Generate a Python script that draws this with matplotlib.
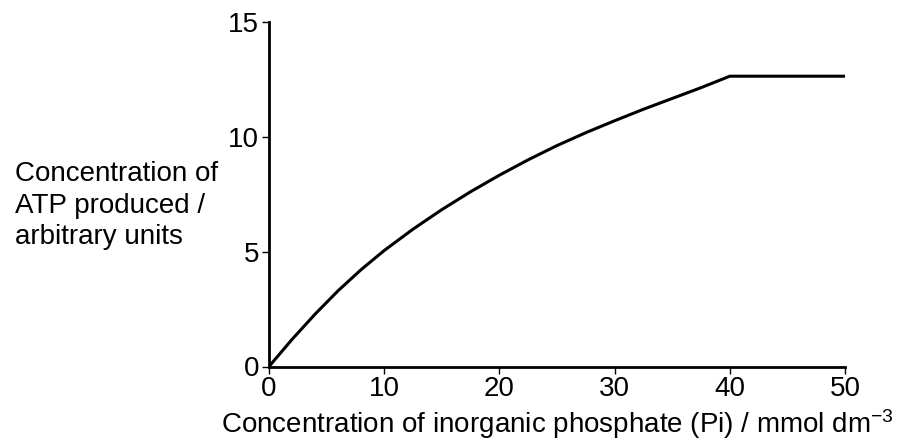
import matplotlib
matplotlib.use("Agg")
import matplotlib.pyplot as plt

pi_conc = [0, 2, 4, 6, 8, 10, 12.5, 15, 17.5, 20, 22.5, 25, 27.5, 30,
           32.5, 35, 37.5, 40, 50]
atp_conc = [0, 1.18, 2.28, 3.30, 4.22, 5.05, 5.98, 6.83, 7.61, 8.33, 9.00,
            9.62, 10.18, 10.70, 11.20, 11.67, 12.14, 12.64, 12.64]

x_ticks = [0, 10, 20, 30, 40, 50]
y_ticks = [0, 5, 10, 15]

y_label_lines = ["Concentration of", "ATP produced /", "arbitrary units"]
x_label = "Concentration of inorganic phosphate (Pi) / mmol dm$^{\u22123}$"

plt.rcParams['font.family'] = ['Liberation Sans', 'DejaVu Sans']
plt.rcParams['mathtext.fontset'] = 'custom'
plt.rcParams['mathtext.rm'] = 'Liberation Sans'
plt.rcParams['mathtext.it'] = 'Liberation Sans:italic'
plt.rcParams['mathtext.bf'] = 'Liberation Sans:bold'

W, H = 902, 441
fig = plt.figure(figsize=(W/100, H/100), dpi=100)
ax = fig.add_axes([269/W, 1 - 366.5/H, (845-269)/W, (366.5-22)/H])

ax.plot(pi_conc, atp_conc, color='black', lw=2.2, solid_joinstyle='round',
        solid_capstyle='butt')

ax.set_xlim(0, 50)
ax.set_ylim(0, 15)
ax.set_xticks(x_ticks)
ax.set_yticks(y_ticks)
for s in ['top', 'right']:
    ax.spines[s].set_visible(False)
for s in ['left', 'bottom']:
    ax.spines[s].set_linewidth(2.0)
ax.tick_params(axis='both', direction='out', length=5, width=1.0,
               labelsize=20, pad=2)

baselines = [180.7, 212.7, 243.5]
for line, yb in zip(y_label_lines, baselines):
    fig.text(15/W, 1 - yb/H, line, ha='left', va='baseline', fontsize=20)

fig.text(557.5/W, 1 - 433/H, x_label, ha='center', va='baseline', fontsize=20)

fig.savefig("out.png", dpi=100)
